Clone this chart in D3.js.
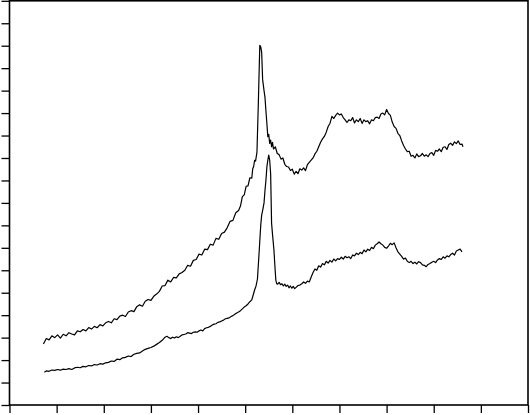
<!DOCTYPE html>
<html>
<head>
<meta charset="utf-8">
<script src="https://cdn.jsdelivr.net/npm/d3@7"></script>
<style>
  body { margin: 0; background: #fff; }
</style>
</head>
<body>
<div id="chart"></div>
<script>
// tick values (no labels shown on the original)
var xTicks = d3.range(0, 1101, 100);
var yTicks = d3.range(0, 1801, 100);

// upper spectrum: [x, intensity]
var upperX = [72,78,84,90,96,102,108,114,120,126,132,138,144,150,156,162,168,174,180,186,192,198,204,210,216,222,228,234,240,246,252,258,264,270,276,282,288,294,300,306,312,318,324,330,336,342,348,354,360,366,372,378,384,390,396,402,408,414,420,426,432,438,444,450,456,462,468,474,480,486,490,494,498,502,506,510,514,516,518,520,522,525,528,531,533,535,537,540,542,544,546,548,550,552,554,556,558,560,564,568,572,576,580,584,588,592,596,600,604,608,612,616,620,624,628,632,636,640,644,648,652,656,660,664,668,672,676,680,684,688,692,696,700,704,708,712,716,720,724,728,732,736,740,744,748,752,756,760,764,768,772,776,780,784,788,792,796,800,804,808,812,816,820,824,828,832,836,840,844,848,852,856,860,864,868,872,876,880,884,888,892,896,900,904,908,912,916,920,924,928,932,936,940,944,948,952,956,960,962];
var upperY = [272,296,290,308,300,312,298,315,308,322,316,312,330,326,336,330,345,338,350,344,358,352,366,372,366,384,380,396,400,394,414,420,416,438,446,440,462,470,466,484,494,506,530,532,556,548,568,566,584,590,600,622,618,644,648,672,668,694,692,716,712,742,738,764,770,790,818,822,856,866,886,928,936,974,976,1012,1010,1052,1062,1090,1086,1126,1350,1602,1595,1570,1450,1400,1370,1310,1255,1195,1205,1165,1180,1150,1170,1140,1150,1120,1115,1095,1100,1072,1062,1060,1044,1050,1028,1040,1030,1052,1046,1056,1044,1070,1080,1090,1100,1118,1130,1150,1170,1185,1196,1215,1240,1255,1285,1276,1290,1300,1292,1296,1280,1270,1258,1270,1266,1280,1256,1270,1262,1276,1254,1270,1262,1266,1252,1270,1266,1280,1282,1276,1296,1300,1292,1316,1298,1290,1260,1240,1232,1210,1200,1176,1156,1140,1128,1130,1108,1112,1100,1118,1106,1110,1120,1108,1114,1106,1120,1124,1112,1134,1130,1140,1128,1148,1150,1138,1160,1166,1156,1172,1164,1176,1160,1162,1150];

// lower spectrum
var lowerX = [74,78,84,90,96,102,108,114,120,126,132,138,144,150,156,162,168,174,180,186,192,198,204,210,216,222,228,234,240,246,252,258,264,270,276,282,288,294,300,306,312,318,324,330,334,338,342,346,350,354,358,362,366,370,374,378,382,386,390,394,398,402,406,410,414,418,422,426,430,434,438,442,446,450,454,458,462,466,470,474,478,482,486,490,494,498,502,506,510,514,517,520,523,526,529,531,533,535,537,540,542,544,546,548,550,552,554,556,558,561,563,565,567,569,572,575,578,581,584,587,590,593,596,599,602,605,608,612,616,620,624,628,632,636,640,644,648,652,656,660,664,668,672,676,680,684,688,692,696,700,704,708,712,716,720,724,728,732,736,740,744,748,752,756,760,764,768,772,776,780,784,788,792,796,800,804,808,812,816,820,824,828,832,836,840,844,848,852,856,860,864,868,872,876,880,884,888,892,896,900,904,908,912,916,920,924,928,932,936,940,944,948,952,956,960];
var lowerY = [146,152,150,156,154,158,155,160,158,162,158,165,168,166,172,170,176,174,180,178,184,182,188,190,196,194,204,202,210,212,218,216,226,230,232,240,248,252,256,262,270,278,288,302,306,300,296,302,298,304,300,306,312,314,316,322,320,318,324,326,324,330,334,330,340,344,346,350,356,360,362,368,370,374,378,384,386,388,394,398,404,410,414,420,428,436,442,450,460,468,490,512,530,560,660,730,800,846,866,900,955,1000,1059,1090,1113,1090,1030,810,760,690,620,556,540,538,546,536,540,530,538,528,534,522,530,520,528,518,524,532,534,540,548,542,552,548,570,590,606,600,620,614,630,624,640,632,644,636,650,642,652,648,658,650,662,656,660,652,668,664,676,670,680,674,690,682,694,688,702,696,712,718,726,718,712,702,698,708,720,714,722,700,682,672,662,650,654,640,634,640,630,636,628,638,634,624,622,616,626,630,636,640,634,646,652,648,660,654,664,660,670,676,668,686,690,694,682];

var width = 530, height = 415;
var plot = { left: 9.5, right: 528, top: 0.8, bottom: 405 };

var svg = d3.select("#chart")
    .append("svg")
    .attr("width", width)
    .attr("height", height);

var x = d3.scaleLinear().domain([0, 1100]).range([plot.left, plot.right]);
var y = d3.scaleLinear().domain([0, 1800]).range([plot.bottom, plot.top]);

// left ticks, pointing outward
svg.append("g")
    .attr("transform", "translate(" + plot.left + ",0)")
    .call(d3.axisLeft(y).tickValues(yTicks).tickSize(8).tickFormat(""))
    .call(function (g) { g.select(".domain").remove(); })
    .selectAll("line").attr("stroke", "#000").attr("stroke-width", 1.3);

// bottom ticks, pointing down
svg.append("g")
    .attr("transform", "translate(0," + plot.bottom + ")")
    .call(d3.axisBottom(x).tickValues(xTicks).tickSize(8).tickFormat(""))
    .call(function (g) { g.select(".domain").remove(); })
    .selectAll("line").attr("stroke", "#000").attr("stroke-width", 1.3);

// frame
svg.append("rect")
    .attr("x", plot.left)
    .attr("y", plot.top)
    .attr("width", plot.right - plot.left)
    .attr("height", plot.bottom - plot.top)
    .attr("fill", "none")
    .attr("stroke", "#000")
    .attr("stroke-width", 1.6);

var line = d3.line()
    .x(function (d) { return x(d[0]); })
    .y(function (d) { return y(d[1]); });

[[upperX, upperY], [lowerX, lowerY]].forEach(function (s) {
    svg.append("path")
        .datum(d3.zip(s[0], s[1]))
        .attr("d", line)
        .attr("fill", "none")
        .attr("stroke", "#000")
        .attr("stroke-width", 1.2)
        .attr("stroke-linejoin", "round");
});
</script>
</body>
</html>
